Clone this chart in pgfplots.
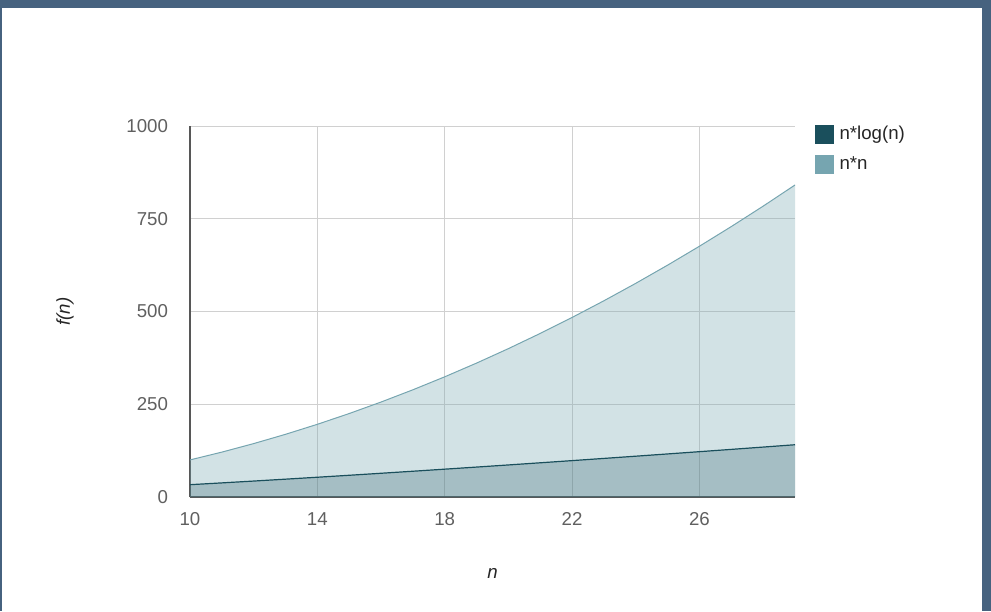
\documentclass[border=0pt]{standalone}
\usepackage{pgfplots}
\pgfplotsset{compat=1.18}
\usepackage{fontspec}
\setmainfont{Liberation Sans}
\setsansfont{Liberation Sans}

\definecolor{framecol}{HTML}{46627F}
\definecolor{nlogn}{HTML}{1A4F5C}
\definecolor{nsq}{HTML}{76A5B0}
\definecolor{gridcol}{HTML}{D0D0D0}
\definecolor{tickcol}{HTML}{444444}

\pgfplotstableread{
n nlogn nsq
10 33.22 100
11 38.05 121
12 43.02 144
13 48.11 169
14 53.30 196
15 58.60 225
16 64.00 256
17 69.49 289
18 75.06 324
19 80.71 361
20 86.44 400
21 92.24 441
22 98.11 484
23 104.04 529
24 110.04 576
25 116.10 625
26 122.21 676
27 128.38 729
28 134.61 784
29 140.88 841
}\datatable

\begin{document}
\begin{tikzpicture}[x=0.75pt,y=0.75pt]
% frame of the page, in pixel units
\fill[framecol] (0,0) rectangle (991,-611);
\fill[white] (2,-8) rectangle (982,-611);
\begin{axis}[
    at={(142.5pt,-372.75pt)},
    anchor=south west,
    scale only axis,
    width=453.75pt,
    height=278.25pt,
    xmin=10, xmax=29,
    ymin=0, ymax=1000,
    xtick={10,14,18,22,26},
    ytick={0,250,500,750,1000},
    major tick length=0pt,
    grid=major,
    major grid style={gridcol, line width=0.75pt},
    axis x line=bottom,
    axis y line=left,
    axis line style={-, draw=tickcol!90, line width=0.9pt},
    /pgf/number format/assume math mode=true,
    /pgf/number format/1000 sep={},
    tick label style={font=\fontsize{14}{16}\selectfont, text=tickcol!85},
    xticklabel style={yshift=-8pt, text height=10pt, text depth=0pt},
    yticklabel style={xshift=-13pt},
    xlabel={\itshape n},
    ylabel={\itshape f(n)},
    label style={font=\fontsize{14}{16}\selectfont, text=black!85},
    xlabel style={at={(axis description cs:0.5,-0.2049)}, anchor=center},
    ylabel style={at={(axis description cs:-0.2066,0.5)}, anchor=center},
    reverse legend,
    legend style={at={(1,1)}, anchor=north west, xshift=12pt, yshift=4pt,
        draw=none, fill=none, font=\fontsize{14}{16}\selectfont,
        row sep=7.5pt, column sep=2pt, text=black!85},
    legend image code/.code={\fill[#1, fill opacity=1] (0pt,-7.1pt) rectangle (14.2pt,7.1pt);},
    legend cell align=left,
]
\addplot[draw=none, fill=nsq, fill opacity=0.32]
    table[x=n, y=nsq] {\datatable} \closedcycle;
\addlegendentry{n*n}
\addplot[draw=none, fill=nlogn, fill opacity=0.24]
    table[x=n, y=nlogn] {\datatable} \closedcycle;
\addlegendentry{n*log(n)}
\addplot[forget plot, draw=nsq, line width=0.75pt]
    table[x=n, y=nsq] {\datatable};
\addplot[forget plot, draw=nlogn, line width=0.9pt]
    table[x=n, y=nlogn] {\datatable};
\end{axis}
\end{tikzpicture}
\end{document}
